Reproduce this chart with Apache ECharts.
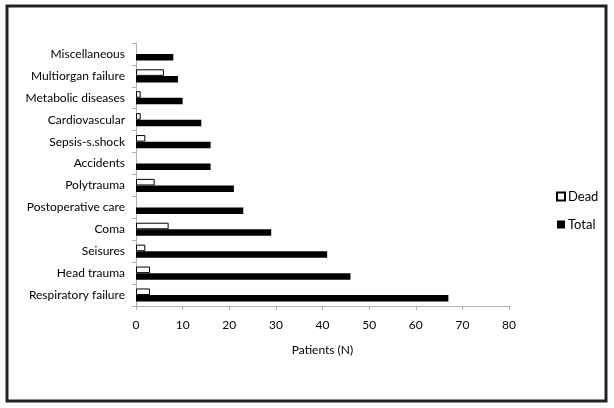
<!DOCTYPE html>
<html>
<head>
<meta charset="utf-8">
<script src="https://cdn.jsdelivr.net/npm/echarts@6/dist/echarts.min.js"></script>
<style>
  html, body { margin: 0; padding: 0; background: #fff; }
  #chart { width: 614px; height: 408px; }
</style>
</head>
<body>
<div id="chart"></div>
<script>
var categories = ['Miscellaneous', 'Multiorgan failure', 'Metabolic diseases', 'Cardiovascular',
  'Sepsis-s.shock', 'Accidents', 'Polytrauma', 'Postoperative care', 'Coma', 'Seisures',
  'Head trauma', 'Respiratory failure'];
var deadValues = [0, 6, 1, 1, 2, 0, 4, 0, 7, 2, 3, 3];
var totalValues = [8, 9, 10, 14, 16, 16, 21, 23, 29, 41, 46, 67];
var xTicks = { min: 0, max: 80, interval: 10 };

var fontName = 'Lato';
var textColor = '#000';

// zero counts get no outline, so nothing is drawn for them
var deadData = [];
for (var i = 0; i < deadValues.length; i++) {
  if (deadValues[i] == 0) {
    deadData.push({ value: deadValues[i], itemStyle: { borderWidth: 0 } });
  } else {
    deadData.push(deadValues[i]);
  }
}

var mychart = echarts.init(document.getElementById('chart'));
var option = {
  animation: false,
  textStyle: { fontFamily: fontName },
  graphic: [{
    type: 'rect',
    shape: { x: 7, y: 6, width: 599, height: 395 },
    style: { fill: 'none', stroke: '#222', lineWidth: 3 }
  }],
  legend: {
    orient: 'vertical',
    left: 551,
    top: 185,
    itemWidth: 8,
    itemHeight: 8,
    itemGap: 15,
    icon: 'rect',
    textStyle: { fontFamily: fontName, fontSize: 13, color: textColor, padding: [0, 0, 0, -2] },
    data: ['Dead', 'Total']
  },
  grid: { left: 136, right: 105, top: 43, bottom: 102, containLabel: false },
  xAxis: {
    type: 'value',
    min: xTicks.min,
    max: xTicks.max,
    interval: xTicks.interval,
    name: 'Patients (N)',
    nameLocation: 'middle',
    nameGap: 38,
    nameTextStyle: { fontFamily: fontName, fontSize: 12, color: textColor },
    axisLine: { show: true, lineStyle: { color: '#b0b0b0', width: 1 } },
    axisTick: { show: true, length: 4, lineStyle: { color: '#b0b0b0' } },
    axisLabel: { margin: 13, fontFamily: fontName, fontSize: 12, color: textColor },
    splitLine: { show: false }
  },
  yAxis: {
    type: 'category',
    inverse: true,
    data: categories,
    axisLine: { show: true, lineStyle: { color: '#b0b0b0', width: 1 } },
    axisTick: { show: true, length: 4, lineStyle: { color: '#b0b0b0' } },
    axisLabel: { margin: 11, fontFamily: fontName, fontSize: 12, color: textColor, padding: [3, 0, 0, 0] }
  },
  series: [
    {
      name: 'Dead',
      type: 'bar',
      data: deadData,
      barGap: '0%',
      barCategoryGap: '40%',
      itemStyle: { color: '#fff', borderColor: '#000', borderWidth: 1 }
    },
    {
      name: 'Total',
      type: 'bar',
      data: totalValues,
      barGap: '0%',
      barCategoryGap: '40%',
      itemStyle: { color: '#000' }
    }
  ]
};
mychart.setOption(option);
</script>
</body>
</html>
